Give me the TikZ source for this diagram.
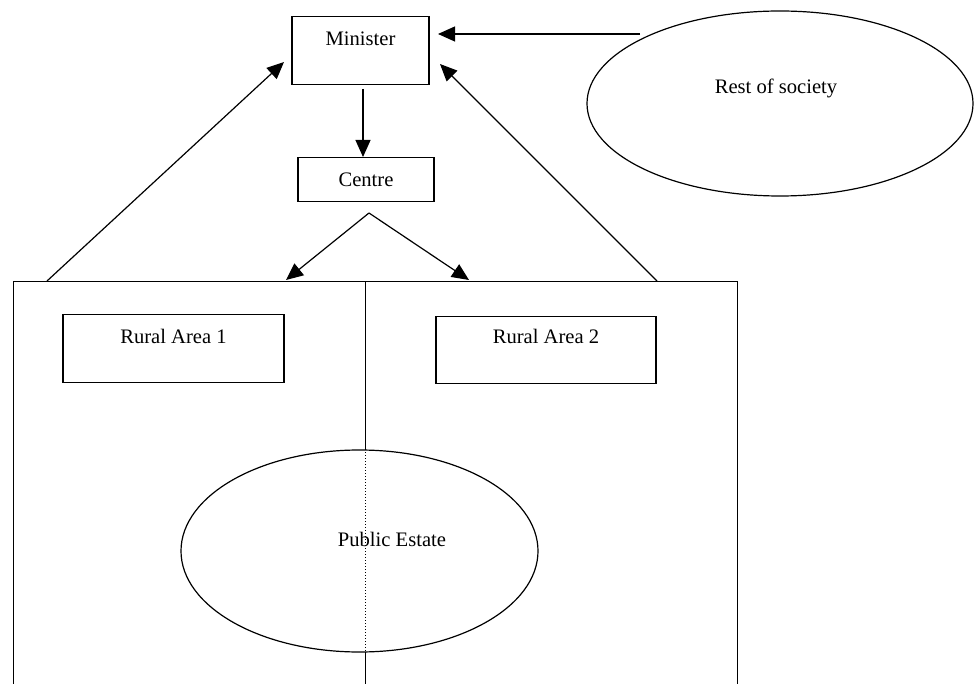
\documentclass[tikz,border=0pt]{standalone}
\usepackage{fontspec}
\setmainfont{Liberation Serif}
\usetikzlibrary{arrows.meta,shapes.geometric,calc}
\begin{document}
\begin{tikzpicture}[x=1pt,y=-1pt,line width=1.2pt,
  every node/.style={font=\fontsize{20.6}{24}\selectfont},
  boxnode/.style={draw,rectangle,anchor=north,inner xsep=0pt,inner ysep=0pt},
  region/.style={draw,rectangle,anchor=north west,inner sep=0pt,minimum height=440pt},
  ovalnode/.style={draw,ellipse,inner sep=0pt,fill=white},
  lbl/.style={anchor=base,inner sep=0pt},
  arr/.style={-{Triangle[length=17pt,width=15pt]}}]
\useasboundingbox (0,0) rectangle (974,684);
\clip (0,0) rectangle (974,684);
% regions
\node[region,minimum width=352pt] (reg1) at (13,281) {};
\node[region,minimum width=372pt] (reg2) at (365,281) {};
% boxes
\node[boxnode,minimum width=137pt,text height=29pt,text depth=39pt] (min) at (360.5,16) {Minister};
\node[boxnode,minimum width=136pt,text height=29pt,text depth=15pt] (cen) at (366,157) {Centre};
\node[boxnode,minimum width=221pt,text height=29pt,text depth=39pt] (ra1) at (173.5,314) {Rural Area 1};
\node[boxnode,minimum width=220pt,text height=27pt,text depth=40pt] (ra2) at (546,316) {Rural Area 2};
% ellipses
\node[ovalnode,minimum width=386pt,minimum height=185pt] (soc) at (780,103.5) {};
\node[lbl] (soctext) at (776,94) {Rest of society};
\node[ovalnode,minimum width=357pt,minimum height=202pt] (pe) at (359.5,551) {};
\draw[dotted,line width=1pt] (pe.north -| reg2.north west) -- (pe.south -| reg2.north west);
\node[lbl] (petext) at (392,546) {Public Estate};
% connector end points
\coordinate (a1s) at (47,281);
\coordinate (a1e) at (284,62);
\coordinate (a2s) at (657,281);
\coordinate (a2e) at (440,64);
\coordinate (a3s) at (640,34);
\coordinate (a3e) at (438,34);
\coordinate (a4s) at (363,89);
\coordinate (a4e) at (363,157);
\coordinate (a5s) at (369,213);
\coordinate (a5l) at (286,280);
\coordinate (a5r) at (469,280);
% connectors
\draw[arr] (a1s) -- (a1e);
\draw[arr] (a2s) -- (a2e);
\draw[arr] (a3s) -- (a3e);
\draw[arr] (a4s) -- (a4e);
\draw[arr] (a5s) -- (a5l);
\draw[arr] (a5s) -- (a5r);
\end{tikzpicture}
\end{document}
